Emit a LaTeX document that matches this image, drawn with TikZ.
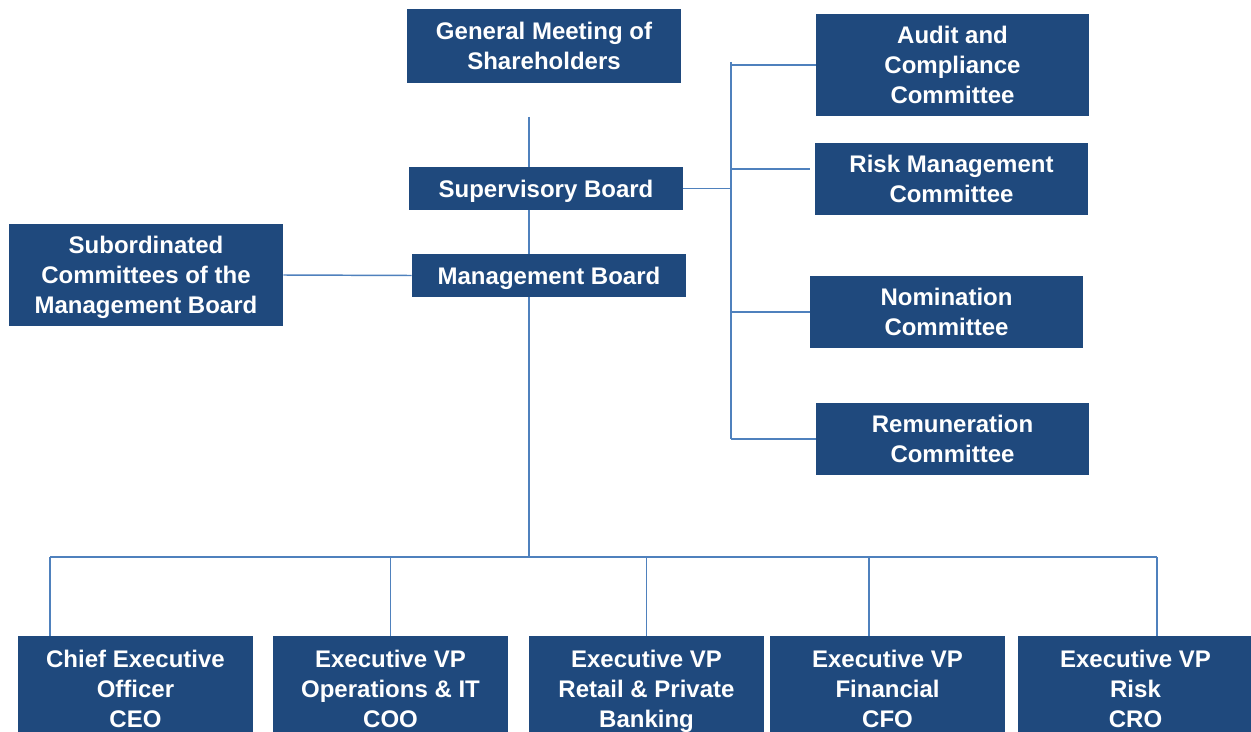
\documentclass[tikz,border=0pt]{standalone}
\usepackage{fontspec}
\setmainfont{Liberation Sans}
\definecolor{boxblue}{HTML}{1F497D}
\definecolor{linkblue}{HTML}{4F81BD}
% line strut centred on the middle of the capitals
\newcommand\capstrut{\rule[-4.8pt]{0pt}{22.5pt}}
\begin{document}
\begin{tikzpicture}[x=0.75pt, y=-0.75pt,
  orgbox/.style={fill=boxblue, text=white, inner sep=0pt, align=center,
    font=\fontsize{18}{22.5}\selectfont\bfseries, minimum width=205.5pt},
  bottombox/.style={orgbox, minimum width=176.25pt, minimum height=79.5pt},
  link/.style={draw=linkblue, line width=1.1pt}]
\useasboundingbox[fill=white] (0,0) rectangle (1251,731);

% governing bodies
\node[orgbox, minimum height=55.5pt] (gms) at (544,46) {\capstrut General Meeting of\\\capstrut Shareholders};
\node[orgbox, minimum height=32.25pt] (sb) at (546,188.5) {\capstrut Supervisory Board};
\node[orgbox, minimum height=32.25pt] (mb) at (549,275.5) {\capstrut Management Board};
\node[orgbox, minimum height=76.5pt] (sub) at (146,275) {\capstrut Subordinated\\\capstrut Committees of the\\\capstrut Management Board};

% committees of the supervisory board
\node[orgbox, minimum width=204.75pt, minimum height=76.5pt] (audit) at (952.5,65) {\capstrut Audit and\\\capstrut Compliance\\\capstrut Committee};
\node[orgbox, minimum width=204.75pt, minimum height=54pt] (risk) at (951.5,179) {\capstrut Risk Management\\\capstrut Committee};
\node[orgbox, minimum width=204.75pt, minimum height=54pt] (nom) at (946.5,312) {\capstrut Nomination\\\capstrut Committee};
\node[orgbox, minimum width=204.75pt, minimum height=54pt] (rem) at (952.5,439) {\capstrut Remuneration\\\capstrut Committee};

% executive officers
\node[bottombox] (ceo) at (135.5,689) {\capstrut Chief Executive\\\capstrut Officer\\\capstrut CEO};
\node[bottombox] (coo) at (390.5,689) {\capstrut Executive VP\\\capstrut Operations \& IT\\\capstrut COO};
\node[bottombox] (rpb) at (646.5,689) {\capstrut Executive VP\\\capstrut Retail \& Private\\\capstrut Banking};
\node[bottombox] (cfo) at (887.5,689) {\capstrut Executive VP\\\capstrut Financial\\\capstrut CFO};
\node[bottombox] (cro) at (1135.5,689) {\capstrut Executive VP\\\capstrut Risk\\\capstrut CRO};

% helper points for the trunk and buses
\coordinate (spine) at (529,117);
\coordinate (bus) at (529,557);
\coordinate (rtop) at (731,62);
\coordinate (rbot) at (731,439);
\coordinate (riskend) at (810,169);

% main trunk
\draw[link] (spine) -- (spine |- sb.north);
\draw[link] (spine |- sb.south) -- (spine |- mb.north);
\draw[link] (spine |- mb.south) -- (bus);
\draw[link] (sub.east) -- (mb.west);

% right-hand bus to the committees
\draw[link] (sb.east) -- (sb.east -| rtop);
\draw[link] (rtop) -- (rbot);
\draw[link] (rtop |- audit.west) -- (audit.west);
\draw[link] (rtop |- riskend) -- (riskend);
\draw[link] (rtop |- nom.west) -- (nom.west);
\draw[link] (rbot) -- (rem.west);

% bottom bus to the executives
\draw[link] (50,557) -- (1157,557);
\draw[link] (50,557) -- (50,557 |- ceo.north);
\draw[link] (coo.north |- bus) -- (coo.north);
\draw[link] (rpb.north |- bus) -- (rpb.north);
\draw[link] (869,557) -- (869,557 |- cfo.north);
\draw[link] (1157,557) -- (1157,557 |- cro.north);
\end{tikzpicture}
\end{document}
